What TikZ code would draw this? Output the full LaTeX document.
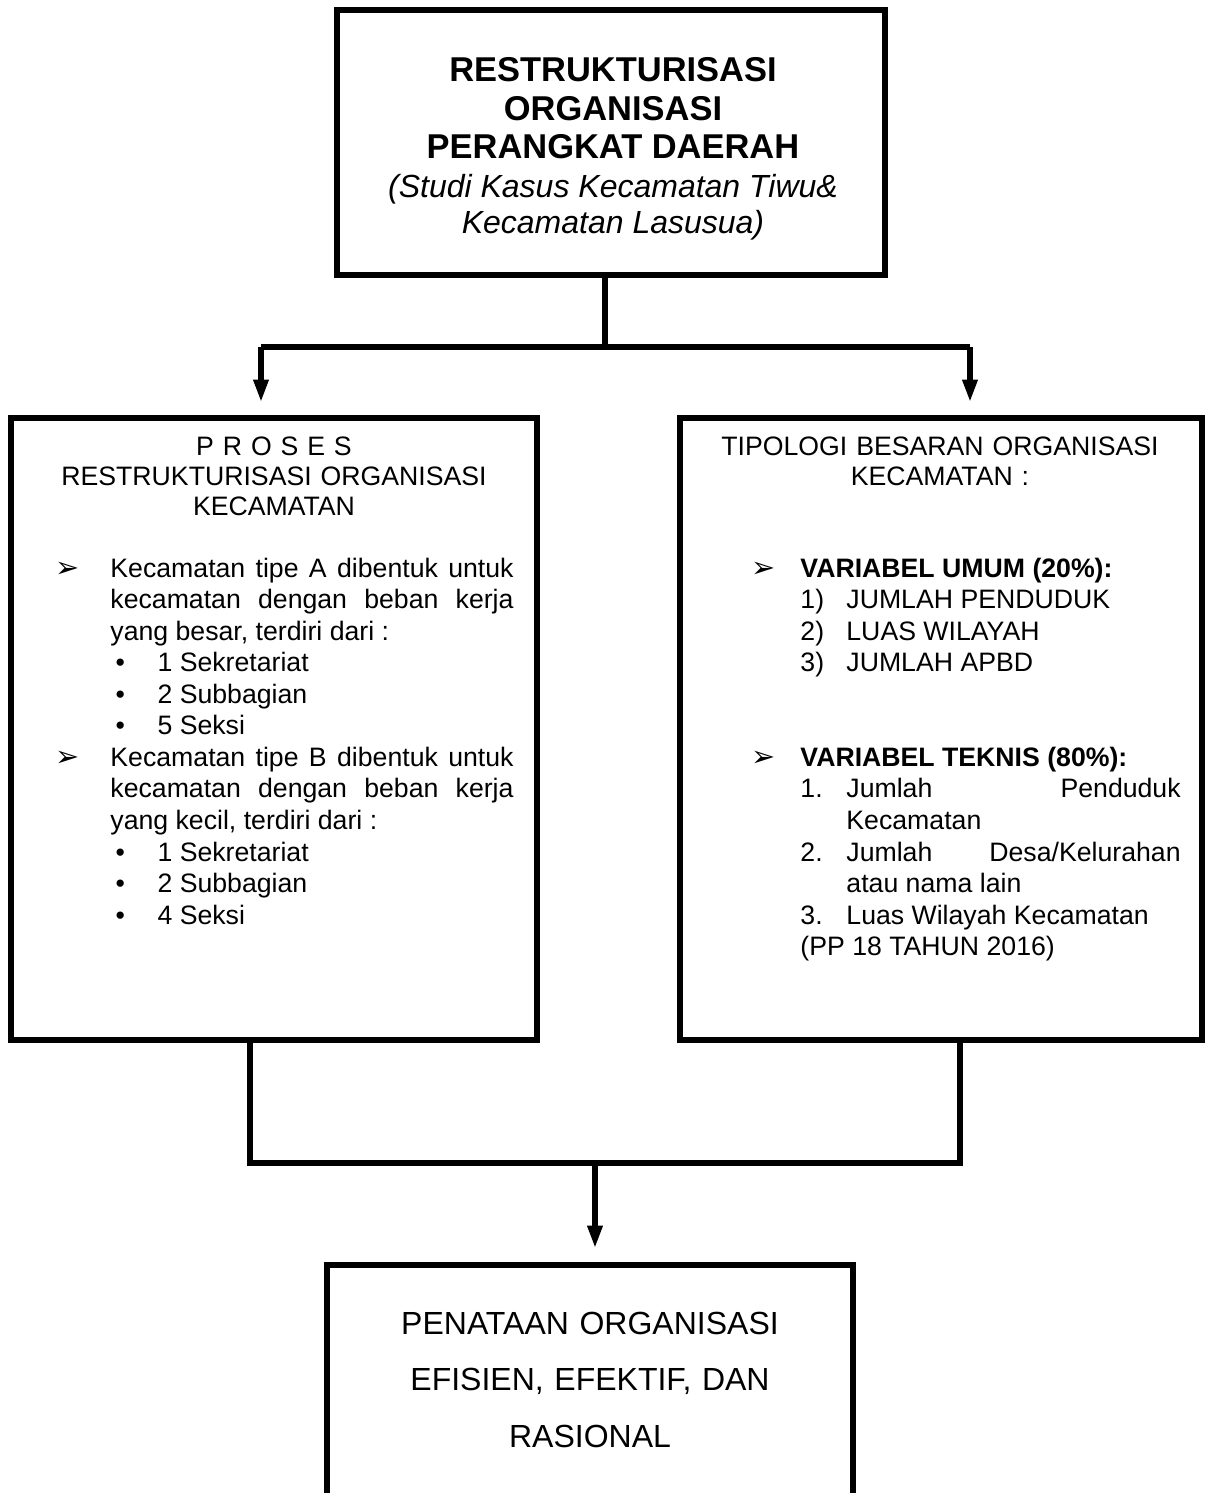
\documentclass[tikz,border=0pt]{standalone}
\usepackage{fontspec}
\setmainfont{Liberation Sans}
\newfontfamily\simbol{DejaVu Sans}
\usetikzlibrary{arrows.meta,calc,fit}
\hyphenpenalty=10000
\exhyphenpenalty=10000

% butir daftar
\newcommand{\butir}[2][21.6pt]{\noindent\hangindent=#1\hangafter=1\makebox[#1][l]{\hspace*{-3pt}\simbol\fontsize{13}{12}\selectfont ➢}#2\par}
\newcommand{\titik}[1]{\noindent\hspace*{23.9pt}\makebox[18.9pt][l]{•}#1\par}
\newcommand{\nomor}[2]{\noindent\hangindent=39.6pt\hangafter=1\hspace*{18.9pt}\makebox[20.7pt][l]{#1}#2\par}

\begin{document}
\begin{tikzpicture}[x=0.45pt,y=-0.45pt,
  kotak/.style={draw,line width=2.8pt,inner sep=0pt},
  garis/.style={line width=2.3pt},
  panah/.style={garis,-{Triangle[length=10pt,width=6.5pt]}},
  teks/.style={font=\fontsize{12}{14.2}\selectfont,inner sep=0pt}]

  \clip (0,0) rectangle (1205,1493);

  % kotak judul
  \node[kotak,fit={(337,10)(885,275)}] (judul) {};
  \foreach \baris/\y in {RESTRUKTURISASI/81,ORGANISASI/120,PERANGKAT DAERAH/158}
    \node[anchor=base,inner sep=0pt,font=\fontsize{15.5}{17}\selectfont\bfseries] (judul\y) at (613,\y) {\baris};
  \node[anchor=base,inner sep=0pt,font=\fontsize{14.4}{16}\selectfont\itshape] (studi) at (613,197) {(Studi Kasus Kecamatan Tiwu\&};
  \node[anchor=base,inner sep=0pt,font=\fontsize{14.4}{16}\selectfont\itshape] (lokasi) at (613,233) {Kecamatan Lasusua)};

  % dua kotak tengah
  \node[kotak,fit={(11,418)(537,1040)}] (proses) {};
  \node[kotak,fit={(680,418)(1202,1040)}] (tipologi) {};

  \node[teks,font=\fontsize{12}{13.7}\selectfont,text width=230pt,align=center,anchor=base] (prosesJudul) at (274,455)
    {P R O S E S\\RESTRUKTURISASI ORGANISASI\\KECAMATAN};
  \node[teks,text width=203pt,align=justify,anchor=base west] (prosesIsi) at (62,577) {%
    \butir{Kecamatan tipe A dibentuk untuk\linebreak kecamatan dengan beban kerja\linebreak yang besar, terdiri dari :}
    \titik{1 Sekretariat}
    \titik{2 Subbagian}
    \titik{5 Seksi}
    \butir{Kecamatan tipe B dibentuk untuk\linebreak kecamatan dengan beban kerja\linebreak yang kecil, terdiri dari :}
    \titik{1 Sekretariat}
    \titik{2 Subbagian}
    \titik{4 Seksi}};

  \node[teks,font=\fontsize{12}{13.7}\selectfont,text width=230pt,align=center,anchor=base] (tipologiJudul) at (940,455)
    {TIPOLOGI BESARAN ORGANISASI\\KECAMATAN :};
  \node[teks,text width=190pt,align=justify,anchor=base west] (tipologiIsi) at (758,577) {%
    \butir[18.9pt]{\textbf{VARIABEL UMUM (20\%):}}
    \nomor{1)}{JUMLAH PENDUDUK}
    \nomor{2)}{LUAS WILAYAH}
    \nomor{3)}{JUMLAH APBD}
    \vspace*{2\baselineskip}
    \butir[18.9pt]{\textbf{VARIABEL TEKNIS (80\%):}}
    \nomor{1.}{Jumlah Penduduk\linebreak Kecamatan}
    \nomor{2.}{Jumlah Desa/Kelurahan\linebreak atau nama lain}
    \nomor{3.}{Luas Wilayah Kecamatan}
    \noindent\hspace*{18.9pt}(PP 18 TAHUN 2016)\par};

  % kotak hasil
  \node[kotak,fit={(327,1265)(853,1560)}] (hasil) {};
  \node[anchor=base,inner sep=0pt,text width=240pt,align=center,font=\fontsize{14.4}{25.6}\selectfont] (hasilTeks) at (590,1334)
    {PENATAAN ORGANISASI\\EFISIEN, EFEKTIF, DAN\\RASIONAL};

  % penghubung
  \coordinate (cabang) at (605,347);
  \coordinate (cabangKiri) at (261,347);
  \coordinate (cabangKanan) at (970,347);
  \draw[garis] (cabang |- judul.south) -- (cabang);
  \draw[garis] (cabangKiri) -- (cabangKanan);
  \draw[panah] (cabangKiri) -- ($(cabangKiri |- proses.north)+(0,-13)$);
  \draw[panah] (cabangKanan) -- ($(cabangKanan |- tipologi.north)+(0,-13)$);

  \coordinate (gabungKiri) at (250,1163);
  \coordinate (gabungKanan) at (960,1163);
  \coordinate (gabung) at (595,1163);
  \draw[garis] (gabungKiri |- proses.south) -- (gabungKiri) -- (gabungKanan) -- (gabungKanan |- tipologi.south);
  \draw[panah] (gabung) -- ($(gabung |- hasil.north)+(0,-14)$);
\end{tikzpicture}
\end{document}
